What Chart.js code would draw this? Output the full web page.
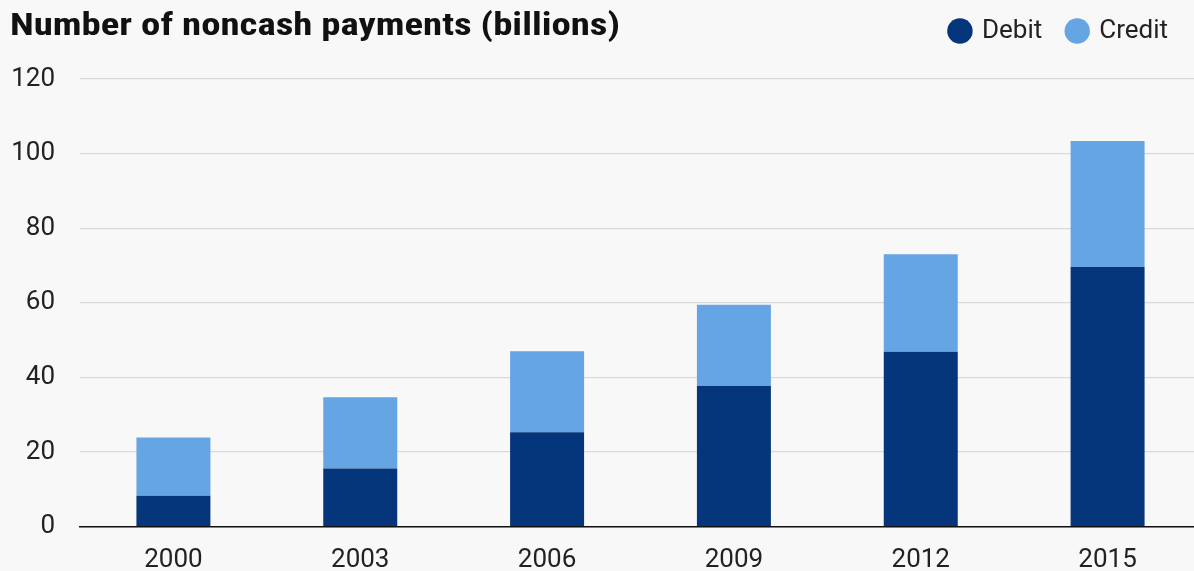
<!DOCTYPE html>
<html>
<head>
<meta charset="utf-8">
<script src="https://cdn.jsdelivr.net/npm/chart.js@4.4.1/dist/chart.umd.min.js"></script>
<style>
  html, body { margin: 0; padding: 0; background: #f8f8f8; overflow: hidden; }
  #wrap { position: relative; width: 1201px; height: 571px; }
  #title { position: absolute; left: 10px; top: 4px; margin: 0; display: inline-block; white-space: nowrap;
    font-family: "Liberation Sans Narrow", "Roboto Condensed", "Arial Narrow", sans-serif;
    font-stretch: condensed; font-weight: bold; font-size: 32px; color: #111; line-height: 40px;
    transform-origin: 0 0; }
</style>
</head>
<body>
<div id="wrap">
  <canvas id="c" width="1201" height="571"></canvas>
  <h1 id="title">Number of noncash payments (billions)</h1>
</div>
<script>
const years = ['2000', '2003', '2006', '2009', '2012', '2015'];
const debit = [8.3, 15.6, 25.3, 37.7, 46.9, 69.6];
const credit = [15.6, 19.1, 21.7, 21.8, 26.1, 33.8];
const seriesNames = ['Debit', 'Credit'];
const yTicks = [0, 20, 40, 60, 80, 100, 120];

// stretch the title to the reference width
const titleEl = document.getElementById('title');
const tw = titleEl.getBoundingClientRect().width;
titleEl.style.transform = 'scaleX(' + (610 / tw) + ')';

const fontFamily = 'Roboto, "Liberation Sans", sans-serif';

const legendShift = {
  id: 'legendShift',
  afterLayout(chart) {
    const lg = chart.legend;
    if (!lg) return;
    lg.right -= 7;
    lg.left -= 7;
    lg.top -= 25;
    lg.bottom -= 25;
  }
};

new Chart(document.getElementById('c'), {
  type: 'bar',
  data: {
    labels: years,
    datasets: [
      { label: seriesNames[0], data: debit, backgroundColor: '#05357a', borderWidth: 0 },
      { label: seriesNames[1], data: credit, backgroundColor: '#66a5e4', borderWidth: 0 }
    ]
  },
  plugins: [legendShift],
  options: {
    responsive: false,
    animation: false,
    devicePixelRatio: 1,
    layout: { padding: { left: 8, right: 0, top: 17, bottom: 0 } },
    datasets: { bar: { barPercentage: 0.396, categoryPercentage: 1.0 } },
    plugins: {
      tooltip: { enabled: false },
      title: { display: false },
      legend: {
        position: 'top',
        align: 'end',
        labels: {
          usePointStyle: true,
          pointStyle: 'circle',
          boxWidth: 18,
          boxHeight: 18,
          padding: 26,
          color: '#222',
          font: { family: fontFamily, size: 26 }
        }
      }
    },
    scales: {
      x: {
        stacked: true,
        grid: { display: false, drawTicks: false },
        border: { display: true, color: '#111', width: 1.5 },
        afterFit: (axis) => { axis.height = 44.3; },
        ticks: { color: '#222', padding: 18, font: { family: fontFamily, size: 26 } }
      },
      y: {
        stacked: true,
        min: 0,
        max: 120,
        afterBuildTicks: (axis) => { axis.ticks = yTicks.map(v => ({ value: v })); },
        afterFit: (axis) => { axis.width = 72; },
        grid: { color: '#d9d9d9', lineWidth: 1.2, drawTicks: false },
        border: { display: false },
        ticks: { color: '#222', padding: 25, font: { family: fontFamily, size: 26 } }
      }
    }
  }
});
</script>
</body>
</html>
